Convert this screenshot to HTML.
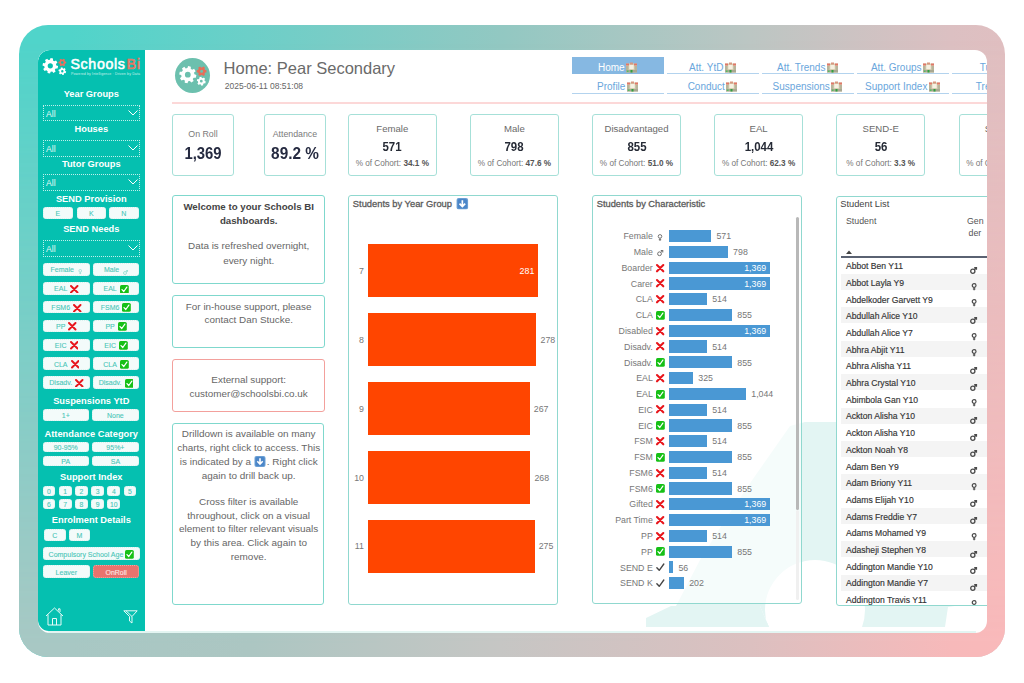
<!DOCTYPE html><html><head><meta charset="utf-8"><style>
*{margin:0;padding:0;box-sizing:border-box}
html,body{width:1024px;height:683px;overflow:hidden;background:#fff}
body{position:relative;font-family:"Liberation Sans",sans-serif}
.t{position:absolute;white-space:nowrap}
.r{position:absolute}
.ic{position:absolute;overflow:visible}
</style></head><body>
<div class="r" style="left:19px;top:25px;width:985.5px;height:632px;border-radius:29px;overflow:hidden;background:linear-gradient(to right,#50d4ca 5.2%,#6ccfc8 23.4%,#92c8c2 48.8%,#bcc6c3 74.2%,#dcc0c2 94.5%,#e0bfc1)"><div style="position:absolute;inset:0;background:linear-gradient(to right,#a8c8c4 5.2%,#acc6c2 23.4%,#c6c6c4 48.8%,#dcc0c0 74.2%,#f7b9ba 94.5%,#f9b9ba);-webkit-mask-image:linear-gradient(to bottom,transparent 2%,#000 98%);mask-image:linear-gradient(to bottom,transparent 2%,#000 98%)"></div></div>
<div class="r" style="left:37.5px;top:49.5px;width:949px;height:583.5px;border-radius:12px;background:#fff;overflow:hidden" id="panel"><div class="r" style="left:-37.5px;top:-49.5px;width:1024px;height:683px">
<svg class="ic" style="left:0;top:0;clip-path:inset(0 0 56px 0)" width="1024" height="683"><path d="M676,606 L700,560 L725,520 L755,476 L790,426 L805,422 L840,422 L850,424 L900,440 L960,470 L995,520 L995,600 L948,607 L945,627 L860,627 L769,627 L760,606 Z M865,610 A50,50 0 1,0 765,610 A50,50 0 1,0 865,610 Z" fill="#e3f5f3" fill-rule="evenodd"/><path d="M646,627 L646,618 L671,606 L760,606 L769,627 Z" fill="#e3f5f3"/></svg>
<div class="r" style="left:37.5px;top:49.5px;width:107.5px;height:581px;border-radius:12px 0 0 11px;background:#05c0b0"></div>
<svg class="ic" style="left:0;top:0" width="200" height="100"><path d="M56.29,65.45 L58.10,66.07 L57.59,68.58 L55.68,68.46 L54.79,69.78 L55.62,71.51 L53.48,72.92 L52.22,71.48 L50.65,71.79 L50.03,73.60 L47.52,73.09 L47.64,71.18 L46.32,70.29 L44.59,71.12 L43.18,68.98 L44.62,67.72 L44.31,66.15 L42.50,65.53 L43.01,63.02 L44.92,63.14 L45.81,61.82 L44.98,60.09 L47.12,58.68 L48.38,60.12 L49.95,59.81 L50.57,58.00 L53.08,58.51 L52.96,60.42 L54.28,61.31 L56.01,60.48 L57.42,62.62 L55.98,63.88 Z M52.90,65.80 A2.6,2.6 0 1,0 47.70,65.80 A2.6,2.6 0 1,0 52.90,65.80 Z" fill="#fff" fill-rule="evenodd"/><path d="M65.12,61.48 L66.20,61.63 L66.20,63.37 L65.12,63.52 L64.59,64.44 L65.01,65.44 L63.50,66.32 L62.83,65.45 L61.77,65.45 L61.10,66.32 L59.59,65.44 L60.01,64.44 L59.48,63.52 L58.40,63.37 L58.40,61.63 L59.48,61.48 L60.01,60.56 L59.59,59.56 L61.10,58.68 L61.77,59.55 L62.83,59.55 L63.50,58.68 L65.01,59.56 L64.59,60.56 Z M63.60,62.50 A1.3,1.3 0 1,0 61.00,62.50 A1.3,1.3 0 1,0 63.60,62.50 Z" fill="#e8705e" fill-rule="evenodd"/><path d="M65.20,71.07 L66.19,71.51 L65.68,73.14 L64.62,72.94 L63.86,73.64 L63.97,74.72 L62.31,75.10 L61.95,74.08 L60.97,73.77 L60.09,74.41 L58.93,73.16 L59.63,72.33 L59.40,71.33 L58.41,70.89 L58.92,69.26 L59.98,69.46 L60.74,68.76 L60.63,67.68 L62.29,67.30 L62.65,68.32 L63.63,68.63 L64.51,67.99 L65.67,69.24 L64.97,70.07 Z M63.50,71.20 A1.2,1.2 0 1,0 61.10,71.20 A1.2,1.2 0 1,0 63.50,71.20 Z" fill="#fff" fill-rule="evenodd"/></svg>
<div class="t" style="left:70.50px;top:54.38px;width:300px;font-size:14.2px;line-height:20px;color:#fff;text-align:left;letter-spacing:0.65px;-webkit-text-stroke:0.55px #fff;">Schools</div>
<div class="t" style="left:126.60px;top:54.38px;width:300px;font-size:14.2px;line-height:20px;color:#d6907a;text-align:left;letter-spacing:0.6px;-webkit-text-stroke:0.7px #ee6f5c;">Bi</div>
<div class="t" style="left:71.00px;top:71.79px;width:300px;font-size:3.6px;line-height:5px;color:#c8f0ea;text-align:left;letter-spacing:0.1px;">Powered by Intelligence &middot; Driven by Data</div>
<div class="t" style="left:31.30px;top:87.83px;width:120px;font-size:9.3px;line-height:13px;color:#fff;text-align:center;font-weight:700;">Year Groups</div>
<div class="t" style="left:31.30px;top:122.53px;width:120px;font-size:9.3px;line-height:13px;color:#fff;text-align:center;font-weight:700;">Houses</div>
<div class="t" style="left:31.30px;top:157.63px;width:120px;font-size:9.3px;line-height:13px;color:#fff;text-align:center;font-weight:700;">Tutor Groups</div>
<div class="t" style="left:31.30px;top:192.93px;width:120px;font-size:9.3px;line-height:13px;color:#fff;text-align:center;font-weight:700;">SEND Provision</div>
<div class="t" style="left:31.30px;top:222.83px;width:120px;font-size:9.3px;line-height:13px;color:#fff;text-align:center;font-weight:700;">SEND Needs</div>
<div class="t" style="left:31.30px;top:394.83px;width:120px;font-size:9.3px;line-height:13px;color:#fff;text-align:center;font-weight:700;">Suspensions YtD</div>
<div class="t" style="left:31.30px;top:427.63px;width:120px;font-size:9.3px;line-height:13px;color:#fff;text-align:center;font-weight:700;">Attendance Category</div>
<div class="t" style="left:31.30px;top:471.03px;width:120px;font-size:9.3px;line-height:13px;color:#fff;text-align:center;font-weight:700;">Support Index</div>
<div class="t" style="left:31.30px;top:514.33px;width:120px;font-size:9.3px;line-height:13px;color:#fff;text-align:center;font-weight:700;">Enrolment Details</div>
<div class="r" style="left:43.00px;top:104.50px;width:97.00px;height:16.90px;border:1px dotted rgba(255,255,255,.75)"></div>
<div class="t" style="left:46.00px;top:108.03px;width:300px;font-size:8.6px;line-height:12px;color:#e6faf7;text-align:left;">All</div>
<svg class="ic" style="left:128px;top:109.95px" width="10" height="6" viewBox="0 0 10 6"><path d="M0.5,0.5 L5,5 L9.5,0.5" stroke="#fff" stroke-width="1" fill="none"/></svg>
<div class="r" style="left:43.00px;top:139.50px;width:97.00px;height:17.10px;border:1px dotted rgba(255,255,255,.75)"></div>
<div class="t" style="left:46.00px;top:143.13px;width:300px;font-size:8.6px;line-height:12px;color:#e6faf7;text-align:left;">All</div>
<svg class="ic" style="left:128px;top:145.05px" width="10" height="6" viewBox="0 0 10 6"><path d="M0.5,0.5 L5,5 L9.5,0.5" stroke="#fff" stroke-width="1" fill="none"/></svg>
<div class="r" style="left:43.00px;top:174.00px;width:97.00px;height:16.70px;border:1px dotted rgba(255,255,255,.75)"></div>
<div class="t" style="left:46.00px;top:177.43px;width:300px;font-size:8.6px;line-height:12px;color:#e6faf7;text-align:left;">All</div>
<svg class="ic" style="left:128px;top:179.35px" width="10" height="6" viewBox="0 0 10 6"><path d="M0.5,0.5 L5,5 L9.5,0.5" stroke="#fff" stroke-width="1" fill="none"/></svg>
<div class="r" style="left:43.00px;top:239.50px;width:97.00px;height:17.20px;border:1px dotted rgba(255,255,255,.75)"></div>
<div class="t" style="left:46.00px;top:243.18px;width:300px;font-size:8.6px;line-height:12px;color:#e6faf7;text-align:left;">All</div>
<svg class="ic" style="left:128px;top:245.10px" width="10" height="6" viewBox="0 0 10 6"><path d="M0.5,0.5 L5,5 L9.5,0.5" stroke="#fff" stroke-width="1" fill="none"/></svg>
<div class="r" style="left:43.00px;top:207.10px;width:29.70px;height:12.40px;background:#f3fbfa;border-radius:3px;border:1px dotted #d8f2ee;display:flex;align-items:center;justify-content:center;gap:3px"><span style="font-size:7.0px;line-height:8.4px;color:#48c6b7;position:relative;top:1.1px;-webkit-text-stroke:0.1px #48c6b7">E</span></div>
<div class="r" style="left:76.50px;top:207.10px;width:29.50px;height:12.40px;background:#f3fbfa;border-radius:3px;border:1px dotted #d8f2ee;display:flex;align-items:center;justify-content:center;gap:3px"><span style="font-size:7.0px;line-height:8.4px;color:#48c6b7;position:relative;top:1.1px;-webkit-text-stroke:0.1px #48c6b7">K</span></div>
<div class="r" style="left:109.00px;top:207.10px;width:29.80px;height:12.40px;background:#f3fbfa;border-radius:3px;border:1px dotted #d8f2ee;display:flex;align-items:center;justify-content:center;gap:3px"><span style="font-size:7.0px;line-height:8.4px;color:#48c6b7;position:relative;top:1.1px;-webkit-text-stroke:0.1px #48c6b7">N</span></div>
<div class="r" style="left:43.00px;top:263.30px;width:46.90px;height:12.50px;background:#f3fbfa;border-radius:3px;border:1px dotted #d8f2ee;display:flex;align-items:center;justify-content:center;gap:4px"><span style="font-size:7.0px;line-height:8.4px;color:#48c6b7;position:relative;top:1.1px;-webkit-text-stroke:0.1px #48c6b7">Female</span><svg width="4.5" height="5.40" viewBox="0 0 10 12" style="flex:none;margin-top:5px"><circle cx="5" cy="4" r="3" stroke="#8ad8ce" stroke-width="1.5" fill="none"/><path d="M5,7 L5,11.5 M3,9.5 L7,9.5" stroke="#8ad8ce" stroke-width="1.5"/></svg></div>
<div class="r" style="left:92.70px;top:263.30px;width:46.70px;height:12.50px;background:#f3fbfa;border-radius:3px;border:1px dotted #d8f2ee;display:flex;align-items:center;justify-content:center;gap:4px"><span style="font-size:7.0px;line-height:8.4px;color:#48c6b7;position:relative;top:1.1px;-webkit-text-stroke:0.1px #48c6b7">Male</span><svg width="5" height="5" viewBox="0 0 10 10" style="flex:none;margin-top:5px"><circle cx="4" cy="6" r="3" stroke="#8ad8ce" stroke-width="1.5" fill="none"/><path d="M6.2,3.8 L9.2,0.8 M6,0.8 L9.2,0.8 L9.2,4" stroke="#8ad8ce" stroke-width="1.5" fill="none"/></svg></div>
<div class="r" style="left:43.00px;top:282.13px;width:46.90px;height:12.50px;background:#f3fbfa;border-radius:3px;border:1px dotted #d8f2ee;display:flex;align-items:center;justify-content:center;gap:3px"><span style="font-size:7.0px;line-height:8.4px;color:#48c6b7;position:relative;top:1.1px;-webkit-text-stroke:0.1px #48c6b7">EAL</span><svg width="8.5" height="8.5" viewBox="0 0 10 10" style="flex:none;position:relative;top:0.6px"><path d="M1.2,1.2 L8.8,8.8 M8.8,1.2 L1.2,8.8" stroke="#e8161c" stroke-width="2.3" stroke-linecap="round"/></svg></div>
<div class="r" style="left:92.70px;top:282.13px;width:46.70px;height:12.50px;background:#f3fbfa;border-radius:3px;border:1px dotted #d8f2ee;display:flex;align-items:center;justify-content:center;gap:3px"><span style="font-size:7.0px;line-height:8.4px;color:#48c6b7;position:relative;top:1.1px;-webkit-text-stroke:0.1px #48c6b7">EAL</span><svg width="8.8" height="8.8" viewBox="0 0 10 10" style="flex:none;position:relative;top:0.6px"><rect x="0" y="0" width="10" height="10" rx="1.8" fill="#16c016"/><path d="M2.3,5.2 L4.3,7.4 L7.8,2.4" stroke="#fff" stroke-width="1.4" fill="none" stroke-linecap="round" stroke-linejoin="round"/></svg></div>
<div class="r" style="left:43.00px;top:300.96px;width:46.90px;height:12.50px;background:#f3fbfa;border-radius:3px;border:1px dotted #d8f2ee;display:flex;align-items:center;justify-content:center;gap:3px"><span style="font-size:7.0px;line-height:8.4px;color:#48c6b7;position:relative;top:1.1px;-webkit-text-stroke:0.1px #48c6b7">FSM6</span><svg width="8.5" height="8.5" viewBox="0 0 10 10" style="flex:none;position:relative;top:0.6px"><path d="M1.2,1.2 L8.8,8.8 M8.8,1.2 L1.2,8.8" stroke="#e8161c" stroke-width="2.3" stroke-linecap="round"/></svg></div>
<div class="r" style="left:92.70px;top:300.96px;width:46.70px;height:12.50px;background:#f3fbfa;border-radius:3px;border:1px dotted #d8f2ee;display:flex;align-items:center;justify-content:center;gap:3px"><span style="font-size:7.0px;line-height:8.4px;color:#48c6b7;position:relative;top:1.1px;-webkit-text-stroke:0.1px #48c6b7">FSM6</span><svg width="8.8" height="8.8" viewBox="0 0 10 10" style="flex:none;position:relative;top:0.6px"><rect x="0" y="0" width="10" height="10" rx="1.8" fill="#16c016"/><path d="M2.3,5.2 L4.3,7.4 L7.8,2.4" stroke="#fff" stroke-width="1.4" fill="none" stroke-linecap="round" stroke-linejoin="round"/></svg></div>
<div class="r" style="left:43.00px;top:319.79px;width:46.90px;height:12.50px;background:#f3fbfa;border-radius:3px;border:1px dotted #d8f2ee;display:flex;align-items:center;justify-content:center;gap:3px"><span style="font-size:7.0px;line-height:8.4px;color:#48c6b7;position:relative;top:1.1px;-webkit-text-stroke:0.1px #48c6b7">PP</span><svg width="8.5" height="8.5" viewBox="0 0 10 10" style="flex:none;position:relative;top:0.6px"><path d="M1.2,1.2 L8.8,8.8 M8.8,1.2 L1.2,8.8" stroke="#e8161c" stroke-width="2.3" stroke-linecap="round"/></svg></div>
<div class="r" style="left:92.70px;top:319.79px;width:46.70px;height:12.50px;background:#f3fbfa;border-radius:3px;border:1px dotted #d8f2ee;display:flex;align-items:center;justify-content:center;gap:3px"><span style="font-size:7.0px;line-height:8.4px;color:#48c6b7;position:relative;top:1.1px;-webkit-text-stroke:0.1px #48c6b7">PP</span><svg width="8.8" height="8.8" viewBox="0 0 10 10" style="flex:none;position:relative;top:0.6px"><rect x="0" y="0" width="10" height="10" rx="1.8" fill="#16c016"/><path d="M2.3,5.2 L4.3,7.4 L7.8,2.4" stroke="#fff" stroke-width="1.4" fill="none" stroke-linecap="round" stroke-linejoin="round"/></svg></div>
<div class="r" style="left:43.00px;top:338.62px;width:46.90px;height:12.50px;background:#f3fbfa;border-radius:3px;border:1px dotted #d8f2ee;display:flex;align-items:center;justify-content:center;gap:3px"><span style="font-size:7.0px;line-height:8.4px;color:#48c6b7;position:relative;top:1.1px;-webkit-text-stroke:0.1px #48c6b7">EIC</span><svg width="8.5" height="8.5" viewBox="0 0 10 10" style="flex:none;position:relative;top:0.6px"><path d="M1.2,1.2 L8.8,8.8 M8.8,1.2 L1.2,8.8" stroke="#e8161c" stroke-width="2.3" stroke-linecap="round"/></svg></div>
<div class="r" style="left:92.70px;top:338.62px;width:46.70px;height:12.50px;background:#f3fbfa;border-radius:3px;border:1px dotted #d8f2ee;display:flex;align-items:center;justify-content:center;gap:3px"><span style="font-size:7.0px;line-height:8.4px;color:#48c6b7;position:relative;top:1.1px;-webkit-text-stroke:0.1px #48c6b7">EIC</span><svg width="8.8" height="8.8" viewBox="0 0 10 10" style="flex:none;position:relative;top:0.6px"><rect x="0" y="0" width="10" height="10" rx="1.8" fill="#16c016"/><path d="M2.3,5.2 L4.3,7.4 L7.8,2.4" stroke="#fff" stroke-width="1.4" fill="none" stroke-linecap="round" stroke-linejoin="round"/></svg></div>
<div class="r" style="left:43.00px;top:357.45px;width:46.90px;height:12.50px;background:#f3fbfa;border-radius:3px;border:1px dotted #d8f2ee;display:flex;align-items:center;justify-content:center;gap:3px"><span style="font-size:7.0px;line-height:8.4px;color:#48c6b7;position:relative;top:1.1px;-webkit-text-stroke:0.1px #48c6b7">CLA</span><svg width="8.5" height="8.5" viewBox="0 0 10 10" style="flex:none;position:relative;top:0.6px"><path d="M1.2,1.2 L8.8,8.8 M8.8,1.2 L1.2,8.8" stroke="#e8161c" stroke-width="2.3" stroke-linecap="round"/></svg></div>
<div class="r" style="left:92.70px;top:357.45px;width:46.70px;height:12.50px;background:#f3fbfa;border-radius:3px;border:1px dotted #d8f2ee;display:flex;align-items:center;justify-content:center;gap:3px"><span style="font-size:7.0px;line-height:8.4px;color:#48c6b7;position:relative;top:1.1px;-webkit-text-stroke:0.1px #48c6b7">CLA</span><svg width="8.8" height="8.8" viewBox="0 0 10 10" style="flex:none;position:relative;top:0.6px"><rect x="0" y="0" width="10" height="10" rx="1.8" fill="#16c016"/><path d="M2.3,5.2 L4.3,7.4 L7.8,2.4" stroke="#fff" stroke-width="1.4" fill="none" stroke-linecap="round" stroke-linejoin="round"/></svg></div>
<div class="r" style="left:43.00px;top:376.28px;width:46.90px;height:12.50px;background:#f3fbfa;border-radius:3px;border:1px dotted #d8f2ee;display:flex;align-items:center;justify-content:center;gap:3px"><span style="font-size:7.0px;line-height:8.4px;color:#48c6b7;position:relative;top:1.1px;-webkit-text-stroke:0.1px #48c6b7">Disadv.</span><svg width="8.5" height="8.5" viewBox="0 0 10 10" style="flex:none;position:relative;top:0.6px"><path d="M1.2,1.2 L8.8,8.8 M8.8,1.2 L1.2,8.8" stroke="#e8161c" stroke-width="2.3" stroke-linecap="round"/></svg></div>
<div class="r" style="left:92.70px;top:376.28px;width:46.70px;height:12.50px;background:#f3fbfa;border-radius:3px;border:1px dotted #d8f2ee;display:flex;align-items:center;justify-content:center;gap:3px"><span style="font-size:7.0px;line-height:8.4px;color:#48c6b7;position:relative;top:1.1px;-webkit-text-stroke:0.1px #48c6b7">Disadv.</span><svg width="8.8" height="8.8" viewBox="0 0 10 10" style="flex:none;position:relative;top:0.6px"><rect x="0" y="0" width="10" height="10" rx="1.8" fill="#16c016"/><path d="M2.3,5.2 L4.3,7.4 L7.8,2.4" stroke="#fff" stroke-width="1.4" fill="none" stroke-linecap="round" stroke-linejoin="round"/></svg></div>
<div class="r" style="left:42.60px;top:409.40px;width:46.30px;height:11.50px;background:#f3fbfa;border-radius:3px;border:1px dotted #d8f2ee;display:flex;align-items:center;justify-content:center;gap:3px"><span style="font-size:7.0px;line-height:8.4px;color:#48c6b7;position:relative;top:1.1px;-webkit-text-stroke:0.1px #48c6b7">1+</span></div>
<div class="r" style="left:92.00px;top:409.40px;width:46.80px;height:11.50px;background:#f3fbfa;border-radius:3px;border:1px dotted #d8f2ee;display:flex;align-items:center;justify-content:center;gap:3px"><span style="font-size:7.0px;line-height:8.4px;color:#48c6b7;position:relative;top:1.1px;-webkit-text-stroke:0.1px #48c6b7">None</span></div>
<div class="r" style="left:42.60px;top:441.80px;width:46.30px;height:10.10px;background:#f3fbfa;border-radius:3px;border:1px dotted #d8f2ee;display:flex;align-items:center;justify-content:center;gap:3px"><span style="font-size:7.0px;line-height:8.4px;color:#48c6b7;position:relative;top:1.1px;-webkit-text-stroke:0.1px #48c6b7">90-95%</span></div>
<div class="r" style="left:92.00px;top:441.80px;width:46.80px;height:10.10px;background:#f3fbfa;border-radius:3px;border:1px dotted #d8f2ee;display:flex;align-items:center;justify-content:center;gap:3px"><span style="font-size:7.0px;line-height:8.4px;color:#48c6b7;position:relative;top:1.1px;-webkit-text-stroke:0.1px #48c6b7">95%+</span></div>
<div class="r" style="left:42.60px;top:455.70px;width:46.30px;height:9.90px;background:#f3fbfa;border-radius:3px;border:1px dotted #d8f2ee;display:flex;align-items:center;justify-content:center;gap:3px"><span style="font-size:7.0px;line-height:8.4px;color:#48c6b7;position:relative;top:1.1px;-webkit-text-stroke:0.1px #48c6b7">PA</span></div>
<div class="r" style="left:92.00px;top:455.70px;width:46.80px;height:9.90px;background:#f3fbfa;border-radius:3px;border:1px dotted #d8f2ee;display:flex;align-items:center;justify-content:center;gap:3px"><span style="font-size:7.0px;line-height:8.4px;color:#48c6b7;position:relative;top:1.1px;-webkit-text-stroke:0.1px #48c6b7">SA</span></div>
<div class="r" style="left:42.60px;top:485.60px;width:12.80px;height:10.10px;background:#f3fbfa;border-radius:3px;border:1px dotted #d8f2ee;display:flex;align-items:center;justify-content:center;gap:3px"><span style="font-size:6.8px;line-height:8.2px;color:#48c6b7;position:relative;top:1.1px;-webkit-text-stroke:0.1px #48c6b7">0</span></div>
<div class="r" style="left:58.80px;top:485.60px;width:12.80px;height:10.10px;background:#f3fbfa;border-radius:3px;border:1px dotted #d8f2ee;display:flex;align-items:center;justify-content:center;gap:3px"><span style="font-size:6.8px;line-height:8.2px;color:#48c6b7;position:relative;top:1.1px;-webkit-text-stroke:0.1px #48c6b7">1</span></div>
<div class="r" style="left:75.00px;top:485.60px;width:12.80px;height:10.10px;background:#f3fbfa;border-radius:3px;border:1px dotted #d8f2ee;display:flex;align-items:center;justify-content:center;gap:3px"><span style="font-size:6.8px;line-height:8.2px;color:#48c6b7;position:relative;top:1.1px;-webkit-text-stroke:0.1px #48c6b7">2</span></div>
<div class="r" style="left:91.20px;top:485.60px;width:12.80px;height:10.10px;background:#f3fbfa;border-radius:3px;border:1px dotted #d8f2ee;display:flex;align-items:center;justify-content:center;gap:3px"><span style="font-size:6.8px;line-height:8.2px;color:#48c6b7;position:relative;top:1.1px;-webkit-text-stroke:0.1px #48c6b7">3</span></div>
<div class="r" style="left:107.40px;top:485.60px;width:12.80px;height:10.10px;background:#f3fbfa;border-radius:3px;border:1px dotted #d8f2ee;display:flex;align-items:center;justify-content:center;gap:3px"><span style="font-size:6.8px;line-height:8.2px;color:#48c6b7;position:relative;top:1.1px;-webkit-text-stroke:0.1px #48c6b7">4</span></div>
<div class="r" style="left:123.60px;top:485.60px;width:12.80px;height:10.10px;background:#f3fbfa;border-radius:3px;border:1px dotted #d8f2ee;display:flex;align-items:center;justify-content:center;gap:3px"><span style="font-size:6.8px;line-height:8.2px;color:#48c6b7;position:relative;top:1.1px;-webkit-text-stroke:0.1px #48c6b7">5</span></div>
<div class="r" style="left:42.60px;top:499.00px;width:12.80px;height:10.10px;background:#f3fbfa;border-radius:3px;border:1px dotted #d8f2ee;display:flex;align-items:center;justify-content:center;gap:3px"><span style="font-size:6.8px;line-height:8.2px;color:#48c6b7;position:relative;top:1.1px;-webkit-text-stroke:0.1px #48c6b7">6</span></div>
<div class="r" style="left:58.80px;top:499.00px;width:12.80px;height:10.10px;background:#f3fbfa;border-radius:3px;border:1px dotted #d8f2ee;display:flex;align-items:center;justify-content:center;gap:3px"><span style="font-size:6.8px;line-height:8.2px;color:#48c6b7;position:relative;top:1.1px;-webkit-text-stroke:0.1px #48c6b7">7</span></div>
<div class="r" style="left:75.00px;top:499.00px;width:12.80px;height:10.10px;background:#f3fbfa;border-radius:3px;border:1px dotted #d8f2ee;display:flex;align-items:center;justify-content:center;gap:3px"><span style="font-size:6.8px;line-height:8.2px;color:#48c6b7;position:relative;top:1.1px;-webkit-text-stroke:0.1px #48c6b7">8</span></div>
<div class="r" style="left:91.20px;top:499.00px;width:12.80px;height:10.10px;background:#f3fbfa;border-radius:3px;border:1px dotted #d8f2ee;display:flex;align-items:center;justify-content:center;gap:3px"><span style="font-size:6.8px;line-height:8.2px;color:#48c6b7;position:relative;top:1.1px;-webkit-text-stroke:0.1px #48c6b7">9</span></div>
<div class="r" style="left:107.40px;top:499.00px;width:12.80px;height:10.10px;background:#f3fbfa;border-radius:3px;border:1px dotted #d8f2ee;display:flex;align-items:center;justify-content:center;gap:3px"><span style="font-size:6.8px;line-height:8.2px;color:#48c6b7;position:relative;top:1.1px;-webkit-text-stroke:0.1px #48c6b7">10</span></div>
<div class="r" style="left:44.00px;top:528.50px;width:21.50px;height:12.40px;background:#f3fbfa;border-radius:3px;border:1px dotted #d8f2ee;display:flex;align-items:center;justify-content:center;gap:3px"><span style="font-size:7.0px;line-height:8.4px;color:#48c6b7;position:relative;top:1.1px;-webkit-text-stroke:0.1px #48c6b7">C</span></div>
<div class="r" style="left:68.70px;top:528.50px;width:21.50px;height:12.40px;background:#f3fbfa;border-radius:3px;border:1px dotted #d8f2ee;display:flex;align-items:center;justify-content:center;gap:3px"><span style="font-size:7.0px;line-height:8.4px;color:#48c6b7;position:relative;top:1.1px;-webkit-text-stroke:0.1px #48c6b7">M</span></div>
<div class="r" style="left:43.00px;top:547.30px;width:96.70px;height:12.90px;background:#f3fbfa;border-radius:3px;border:1px dotted #d8f2ee;display:flex;align-items:center;justify-content:center;gap:2px"><span style="font-size:7.0px;line-height:8.4px;color:#48c6b7;position:relative;top:1.1px;-webkit-text-stroke:0.1px #48c6b7">Compulsory School Age</span><svg width="8.8" height="8.8" viewBox="0 0 10 10" style="flex:none;position:relative;top:0.6px"><rect x="0" y="0" width="10" height="10" rx="1.8" fill="#16c016"/><path d="M2.3,5.2 L4.3,7.4 L7.8,2.4" stroke="#fff" stroke-width="1.4" fill="none" stroke-linecap="round" stroke-linejoin="round"/></svg></div>
<div class="r" style="left:43.00px;top:565.30px;width:46.60px;height:12.70px;background:#f3fbfa;border-radius:3px;border:1px dotted #d8f2ee;display:flex;align-items:center;justify-content:center;gap:3px"><span style="font-size:7.0px;line-height:8.4px;color:#48c6b7;position:relative;top:1.1px;-webkit-text-stroke:0.1px #48c6b7">Leaver</span></div>
<div class="r" style="left:93.10px;top:565.30px;width:46.10px;height:12.70px;background:#e8736e;border-radius:3px;border:1px dotted #f3a8a2;display:flex;align-items:center;justify-content:center;gap:3px"><span style="font-size:7.0px;line-height:8.4px;color:#fde8e6;position:relative;top:1.1px;-webkit-text-stroke:0.1px #fde8e6">OnRoll</span></div>
<svg class="ic" style="left:45px;top:607px" width="19" height="19" viewBox="0 0 19 19"><path d="M1,9 L9.5,1 L18,9 M3,7.5 L3,18 L16,18 L16,7.5 M7.5,18 L7.5,11.5 L11.5,11.5 L11.5,18 M13.5,3.5 L13.5,1.8 L15,1.8 L15,5" stroke="#e8fbf8" stroke-width="1" fill="none"/></svg>
<svg class="ic" style="left:123px;top:610px" width="15" height="14" viewBox="0 0 15 14"><path d="M0.8,0.8 L14.2,0.8 L9,6.5 L9,13 L6.5,11 L6.5,6.5 Z M3,0.8 L9,6.5" stroke="#e8fbf8" stroke-width="1" fill="none" stroke-linejoin="round"/></svg>
<div class="r" style="left:175.2px;top:58.3px;width:35.2px;height:35.2px;border-radius:50%;background:#6cc0ae"></div>
<svg class="ic" style="left:0;top:0" width="230" height="100"><path d="M194.39,74.31 L196.39,75.00 L195.83,77.77 L193.72,77.63 L192.73,79.08 L193.66,80.99 L191.31,82.55 L189.92,80.95 L188.19,81.29 L187.50,83.29 L184.73,82.73 L184.87,80.62 L183.42,79.63 L181.51,80.56 L179.95,78.21 L181.55,76.82 L181.21,75.09 L179.21,74.40 L179.77,71.63 L181.88,71.77 L182.87,70.32 L181.94,68.41 L184.29,66.85 L185.68,68.45 L187.41,68.11 L188.10,66.11 L190.87,66.67 L190.73,68.78 L192.18,69.77 L194.09,68.84 L195.65,71.19 L194.05,72.58 Z M190.70,74.70 A2.9,2.9 0 1,0 184.90,74.70 A2.9,2.9 0 1,0 190.70,74.70 Z" fill="#fff" fill-rule="evenodd"/><path d="M205.18,70.01 L206.48,70.21 L206.48,72.39 L205.18,72.59 L204.50,73.75 L204.98,74.98 L203.10,76.07 L202.27,75.04 L200.93,75.04 L200.10,76.07 L198.22,74.98 L198.70,73.75 L198.02,72.59 L196.72,72.39 L196.72,70.21 L198.02,70.01 L198.70,68.85 L198.22,67.62 L200.10,66.53 L200.93,67.56 L202.27,67.56 L203.10,66.53 L204.98,67.62 L204.50,68.85 Z M203.10,71.30 A1.5,1.5 0 1,0 200.10,71.30 A1.5,1.5 0 1,0 203.10,71.30 Z" fill="#e66e5a" fill-rule="evenodd"/><path d="M204.70,81.05 L205.79,81.56 L205.21,83.44 L204.02,83.25 L203.13,84.06 L203.23,85.26 L201.32,85.70 L200.89,84.57 L199.74,84.22 L198.75,84.90 L197.41,83.46 L198.17,82.53 L197.90,81.35 L196.81,80.84 L197.39,78.96 L198.58,79.15 L199.47,78.34 L199.37,77.14 L201.28,76.70 L201.71,77.83 L202.86,78.18 L203.85,77.50 L205.19,78.94 L204.43,79.87 Z M202.70,81.20 A1.4,1.4 0 1,0 199.90,81.20 A1.4,1.4 0 1,0 202.70,81.20 Z" fill="#fff" fill-rule="evenodd"/></svg>
<div class="t" style="left:223.60px;top:57.11px;width:300px;font-size:16.5px;line-height:23px;color:#6a6a6a;text-align:left;">Home: Pear Secondary</div>
<div class="t" style="left:224.80px;top:80.34px;width:300px;font-size:8.5px;line-height:12px;color:#666;text-align:left;">2025-06-11 08:51:08</div>
<div class="r" style="left:172.00px;top:102.30px;width:815.00px;height:1.50px;background:#fcd8d8"></div>
<div class="r" style="left:572.00px;top:57.40px;width:92.00px;height:16.70px;background:#86b8e2"></div>
<div class="r" style="left:572px;top:60.60px;width:92px;height:13px;display:flex;align-items:center;justify-content:center;white-space:nowrap"><span style="font-size:10px;line-height:13px;color:#fff">Home</span><svg width="13" height="11" viewBox="0 0 13 11" style="flex:none;margin-left:0.5px"><rect x="1" y="1.5" width="11" height="9" fill="#d8d0b4"/><rect x="1" y="1.5" width="3" height="2" fill="#e07868"/><rect x="9" y="1.5" width="3" height="2" fill="#e07868"/><rect x="5" y="0.5" width="3" height="2" fill="#d89880"/><rect x="4.3" y="3" width="4.4" height="4" fill="#f6f1e2"/><rect x="1" y="4" width="2.5" height="6" fill="#b8b49a"/><rect x="9.5" y="4" width="2.5" height="6" fill="#b8b49a"/><rect x="1" y="8" width="11" height="2.5" fill="#a8a892"/><rect x="5.5" y="8" width="2" height="2.5" fill="#30a040"/><rect x="2" y="8.5" width="1.5" height="1.5" fill="#50c060"/></svg></div>
<div class="r" style="left:667.00px;top:72.80px;width:92.00px;height:1.30px;background:#b3d3ee"></div>
<div class="r" style="left:667px;top:60.60px;width:92px;height:13px;display:flex;align-items:center;justify-content:center;white-space:nowrap"><span style="font-size:10px;line-height:13px;color:#6aa6dc">Att. YtD</span><svg width="13" height="11" viewBox="0 0 13 11" style="flex:none;margin-left:0.5px"><rect x="1" y="1.5" width="11" height="9" fill="#d8d0b4"/><rect x="1" y="1.5" width="3" height="2" fill="#e07868"/><rect x="9" y="1.5" width="3" height="2" fill="#e07868"/><rect x="5" y="0.5" width="3" height="2" fill="#d89880"/><rect x="4.3" y="3" width="4.4" height="4" fill="#f6f1e2"/><rect x="1" y="4" width="2.5" height="6" fill="#b8b49a"/><rect x="9.5" y="4" width="2.5" height="6" fill="#b8b49a"/><rect x="1" y="8" width="11" height="2.5" fill="#a8a892"/><rect x="5.5" y="8" width="2" height="2.5" fill="#30a040"/><rect x="2" y="8.5" width="1.5" height="1.5" fill="#50c060"/></svg></div>
<div class="r" style="left:762.00px;top:72.80px;width:92.00px;height:1.30px;background:#b3d3ee"></div>
<div class="r" style="left:762px;top:60.60px;width:92px;height:13px;display:flex;align-items:center;justify-content:center;white-space:nowrap"><span style="font-size:10px;line-height:13px;color:#6aa6dc">Att. Trends</span><svg width="13" height="11" viewBox="0 0 13 11" style="flex:none;margin-left:0.5px"><rect x="1" y="1.5" width="11" height="9" fill="#d8d0b4"/><rect x="1" y="1.5" width="3" height="2" fill="#e07868"/><rect x="9" y="1.5" width="3" height="2" fill="#e07868"/><rect x="5" y="0.5" width="3" height="2" fill="#d89880"/><rect x="4.3" y="3" width="4.4" height="4" fill="#f6f1e2"/><rect x="1" y="4" width="2.5" height="6" fill="#b8b49a"/><rect x="9.5" y="4" width="2.5" height="6" fill="#b8b49a"/><rect x="1" y="8" width="11" height="2.5" fill="#a8a892"/><rect x="5.5" y="8" width="2" height="2.5" fill="#30a040"/><rect x="2" y="8.5" width="1.5" height="1.5" fill="#50c060"/></svg></div>
<div class="r" style="left:857.00px;top:72.80px;width:92.00px;height:1.30px;background:#b3d3ee"></div>
<div class="r" style="left:857px;top:60.60px;width:92px;height:13px;display:flex;align-items:center;justify-content:center;white-space:nowrap"><span style="font-size:10px;line-height:13px;color:#6aa6dc">Att. Groups</span><svg width="13" height="11" viewBox="0 0 13 11" style="flex:none;margin-left:0.5px"><rect x="1" y="1.5" width="11" height="9" fill="#d8d0b4"/><rect x="1" y="1.5" width="3" height="2" fill="#e07868"/><rect x="9" y="1.5" width="3" height="2" fill="#e07868"/><rect x="5" y="0.5" width="3" height="2" fill="#d89880"/><rect x="4.3" y="3" width="4.4" height="4" fill="#f6f1e2"/><rect x="1" y="4" width="2.5" height="6" fill="#b8b49a"/><rect x="9.5" y="4" width="2.5" height="6" fill="#b8b49a"/><rect x="1" y="8" width="11" height="2.5" fill="#a8a892"/><rect x="5.5" y="8" width="2" height="2.5" fill="#30a040"/><rect x="2" y="8.5" width="1.5" height="1.5" fill="#50c060"/></svg></div>
<div class="r" style="left:952.00px;top:72.80px;width:92.00px;height:1.30px;background:#b3d3ee"></div>
<div class="r" style="left:952px;top:60.60px;width:92px;height:13px;display:flex;align-items:center;justify-content:center;white-space:nowrap"><span style="font-size:10px;line-height:13px;color:#6aa6dc">Tutor</span><svg width="13" height="11" viewBox="0 0 13 11" style="flex:none;margin-left:0.5px"><rect x="1" y="1.5" width="11" height="9" fill="#d8d0b4"/><rect x="1" y="1.5" width="3" height="2" fill="#e07868"/><rect x="9" y="1.5" width="3" height="2" fill="#e07868"/><rect x="5" y="0.5" width="3" height="2" fill="#d89880"/><rect x="4.3" y="3" width="4.4" height="4" fill="#f6f1e2"/><rect x="1" y="4" width="2.5" height="6" fill="#b8b49a"/><rect x="9.5" y="4" width="2.5" height="6" fill="#b8b49a"/><rect x="1" y="8" width="11" height="2.5" fill="#a8a892"/><rect x="5.5" y="8" width="2" height="2.5" fill="#30a040"/><rect x="2" y="8.5" width="1.5" height="1.5" fill="#50c060"/></svg></div>
<div class="r" style="left:572.00px;top:93.00px;width:92.00px;height:1.30px;background:#b3d3ee"></div>
<div class="r" style="left:572px;top:79.60px;width:92px;height:13px;display:flex;align-items:center;justify-content:center;white-space:nowrap"><span style="font-size:10px;line-height:13px;color:#6aa6dc">Profile</span><svg width="13" height="11" viewBox="0 0 13 11" style="flex:none;margin-left:0.5px"><rect x="1" y="1.5" width="11" height="9" fill="#d8d0b4"/><rect x="1" y="1.5" width="3" height="2" fill="#e07868"/><rect x="9" y="1.5" width="3" height="2" fill="#e07868"/><rect x="5" y="0.5" width="3" height="2" fill="#d89880"/><rect x="4.3" y="3" width="4.4" height="4" fill="#f6f1e2"/><rect x="1" y="4" width="2.5" height="6" fill="#b8b49a"/><rect x="9.5" y="4" width="2.5" height="6" fill="#b8b49a"/><rect x="1" y="8" width="11" height="2.5" fill="#a8a892"/><rect x="5.5" y="8" width="2" height="2.5" fill="#30a040"/><rect x="2" y="8.5" width="1.5" height="1.5" fill="#50c060"/></svg></div>
<div class="r" style="left:667.00px;top:93.00px;width:92.00px;height:1.30px;background:#b3d3ee"></div>
<div class="r" style="left:667px;top:79.60px;width:92px;height:13px;display:flex;align-items:center;justify-content:center;white-space:nowrap"><span style="font-size:10px;line-height:13px;color:#6aa6dc">Conduct</span><svg width="13" height="11" viewBox="0 0 13 11" style="flex:none;margin-left:0.5px"><rect x="1" y="1.5" width="11" height="9" fill="#d8d0b4"/><rect x="1" y="1.5" width="3" height="2" fill="#e07868"/><rect x="9" y="1.5" width="3" height="2" fill="#e07868"/><rect x="5" y="0.5" width="3" height="2" fill="#d89880"/><rect x="4.3" y="3" width="4.4" height="4" fill="#f6f1e2"/><rect x="1" y="4" width="2.5" height="6" fill="#b8b49a"/><rect x="9.5" y="4" width="2.5" height="6" fill="#b8b49a"/><rect x="1" y="8" width="11" height="2.5" fill="#a8a892"/><rect x="5.5" y="8" width="2" height="2.5" fill="#30a040"/><rect x="2" y="8.5" width="1.5" height="1.5" fill="#50c060"/></svg></div>
<div class="r" style="left:762.00px;top:93.00px;width:92.00px;height:1.30px;background:#b3d3ee"></div>
<div class="r" style="left:762px;top:79.60px;width:92px;height:13px;display:flex;align-items:center;justify-content:center;white-space:nowrap"><span style="font-size:10px;line-height:13px;color:#6aa6dc">Suspensions</span><svg width="13" height="11" viewBox="0 0 13 11" style="flex:none;margin-left:0.5px"><rect x="1" y="1.5" width="11" height="9" fill="#d8d0b4"/><rect x="1" y="1.5" width="3" height="2" fill="#e07868"/><rect x="9" y="1.5" width="3" height="2" fill="#e07868"/><rect x="5" y="0.5" width="3" height="2" fill="#d89880"/><rect x="4.3" y="3" width="4.4" height="4" fill="#f6f1e2"/><rect x="1" y="4" width="2.5" height="6" fill="#b8b49a"/><rect x="9.5" y="4" width="2.5" height="6" fill="#b8b49a"/><rect x="1" y="8" width="11" height="2.5" fill="#a8a892"/><rect x="5.5" y="8" width="2" height="2.5" fill="#30a040"/><rect x="2" y="8.5" width="1.5" height="1.5" fill="#50c060"/></svg></div>
<div class="r" style="left:857.00px;top:93.00px;width:92.00px;height:1.30px;background:#b3d3ee"></div>
<div class="r" style="left:857px;top:79.60px;width:92px;height:13px;display:flex;align-items:center;justify-content:center;white-space:nowrap"><span style="font-size:10px;line-height:13px;color:#6aa6dc">Support Index</span><svg width="13" height="11" viewBox="0 0 13 11" style="flex:none;margin-left:0.5px"><rect x="1" y="1.5" width="11" height="9" fill="#d8d0b4"/><rect x="1" y="1.5" width="3" height="2" fill="#e07868"/><rect x="9" y="1.5" width="3" height="2" fill="#e07868"/><rect x="5" y="0.5" width="3" height="2" fill="#d89880"/><rect x="4.3" y="3" width="4.4" height="4" fill="#f6f1e2"/><rect x="1" y="4" width="2.5" height="6" fill="#b8b49a"/><rect x="9.5" y="4" width="2.5" height="6" fill="#b8b49a"/><rect x="1" y="8" width="11" height="2.5" fill="#a8a892"/><rect x="5.5" y="8" width="2" height="2.5" fill="#30a040"/><rect x="2" y="8.5" width="1.5" height="1.5" fill="#50c060"/></svg></div>
<div class="r" style="left:952.00px;top:93.00px;width:92.00px;height:1.30px;background:#b3d3ee"></div>
<div class="r" style="left:952px;top:79.60px;width:92px;height:13px;display:flex;align-items:center;justify-content:center;white-space:nowrap"><span style="font-size:10px;line-height:13px;color:#6aa6dc">Trends</span><svg width="13" height="11" viewBox="0 0 13 11" style="flex:none;margin-left:0.5px"><rect x="1" y="1.5" width="11" height="9" fill="#d8d0b4"/><rect x="1" y="1.5" width="3" height="2" fill="#e07868"/><rect x="9" y="1.5" width="3" height="2" fill="#e07868"/><rect x="5" y="0.5" width="3" height="2" fill="#d89880"/><rect x="4.3" y="3" width="4.4" height="4" fill="#f6f1e2"/><rect x="1" y="4" width="2.5" height="6" fill="#b8b49a"/><rect x="9.5" y="4" width="2.5" height="6" fill="#b8b49a"/><rect x="1" y="8" width="11" height="2.5" fill="#a8a892"/><rect x="5.5" y="8" width="2" height="2.5" fill="#30a040"/><rect x="2" y="8.5" width="1.5" height="1.5" fill="#50c060"/></svg></div>
<div class="r" style="left:171.80px;top:113.70px;width:62.40px;height:62.40px;border:1px solid #a6e0d8;border-radius:3px;background:#fff"></div>
<div class="t" style="left:173.00px;top:127.85px;width:60px;font-size:8.8px;line-height:12px;color:#7a7a7a;text-align:center;">On Roll</div>
<div class="t" style="left:173.00px;top:141.51px;width:60px;font-size:16.5px;line-height:23px;color:#252a40;text-align:center;font-weight:700;transform:scaleX(0.9);">1,369</div>
<div class="r" style="left:264.00px;top:113.70px;width:61.80px;height:62.40px;border:1px solid #a6e0d8;border-radius:3px;background:#fff"></div>
<div class="t" style="left:264.90px;top:127.85px;width:60px;font-size:8.8px;line-height:12px;color:#7a7a7a;text-align:center;">Attendance</div>
<div class="t" style="left:260.30px;top:141.51px;width:70px;font-size:16.5px;line-height:23px;color:#252a40;text-align:center;font-weight:700;transform:scaleX(0.93);">89.2 %</div>
<div class="r" style="left:348.00px;top:113.90px;width:88.60px;height:62.40px;border:1px solid #a6e0d8;border-radius:3px;background:#fff"></div>
<div class="t" style="left:342.30px;top:122.44px;width:100px;font-size:9.6px;line-height:13px;color:#6a6a6a;text-align:center;">Female</div>
<div class="t" style="left:342.30px;top:137.75px;width:100px;font-size:13px;line-height:18px;color:#252a35;text-align:center;font-weight:700;transform:scaleX(0.88);">571</div>
<div class="t" style="left:342.30px;top:158.14px;width:100px;font-size:8.2px;line-height:11px;color:#777;text-align:center;">% of Cohort: <b style="color:#555">34.1 %</b></div>
<div class="r" style="left:470.10px;top:113.90px;width:88.60px;height:62.40px;border:1px solid #a6e0d8;border-radius:3px;background:#fff"></div>
<div class="t" style="left:464.40px;top:122.44px;width:100px;font-size:9.6px;line-height:13px;color:#6a6a6a;text-align:center;">Male</div>
<div class="t" style="left:464.40px;top:137.75px;width:100px;font-size:13px;line-height:18px;color:#252a35;text-align:center;font-weight:700;transform:scaleX(0.88);">798</div>
<div class="t" style="left:464.40px;top:158.14px;width:100px;font-size:8.2px;line-height:11px;color:#777;text-align:center;">% of Cohort: <b style="color:#555">47.6 %</b></div>
<div class="r" style="left:592.20px;top:113.90px;width:88.60px;height:62.40px;border:1px solid #a6e0d8;border-radius:3px;background:#fff"></div>
<div class="t" style="left:586.50px;top:122.44px;width:100px;font-size:9.6px;line-height:13px;color:#6a6a6a;text-align:center;">Disadvantaged</div>
<div class="t" style="left:586.50px;top:137.75px;width:100px;font-size:13px;line-height:18px;color:#252a35;text-align:center;font-weight:700;transform:scaleX(0.88);">855</div>
<div class="t" style="left:586.50px;top:158.14px;width:100px;font-size:8.2px;line-height:11px;color:#777;text-align:center;">% of Cohort: <b style="color:#555">51.0 %</b></div>
<div class="r" style="left:714.30px;top:113.90px;width:88.60px;height:62.40px;border:1px solid #a6e0d8;border-radius:3px;background:#fff"></div>
<div class="t" style="left:708.60px;top:122.44px;width:100px;font-size:9.6px;line-height:13px;color:#6a6a6a;text-align:center;">EAL</div>
<div class="t" style="left:708.60px;top:137.75px;width:100px;font-size:13px;line-height:18px;color:#252a35;text-align:center;font-weight:700;transform:scaleX(0.88);">1,044</div>
<div class="t" style="left:708.60px;top:158.14px;width:100px;font-size:8.2px;line-height:11px;color:#777;text-align:center;">% of Cohort: <b style="color:#555">62.3 %</b></div>
<div class="r" style="left:836.40px;top:113.90px;width:88.60px;height:62.40px;border:1px solid #a6e0d8;border-radius:3px;background:#fff"></div>
<div class="t" style="left:830.70px;top:122.44px;width:100px;font-size:9.6px;line-height:13px;color:#6a6a6a;text-align:center;">SEND-E</div>
<div class="t" style="left:830.70px;top:137.75px;width:100px;font-size:13px;line-height:18px;color:#252a35;text-align:center;font-weight:700;transform:scaleX(0.88);">56</div>
<div class="t" style="left:830.70px;top:158.14px;width:100px;font-size:8.2px;line-height:11px;color:#777;text-align:center;">% of Cohort: <b style="color:#555">3.3 %</b></div>
<div class="r" style="left:958.50px;top:113.90px;width:88.60px;height:62.40px;border:1px solid #a6e0d8;border-radius:3px;background:#fff"></div>
<div class="t" style="left:952.80px;top:122.44px;width:100px;font-size:9.6px;line-height:13px;color:#6a6a6a;text-align:center;">SEND-K</div>
<div class="t" style="left:952.80px;top:137.75px;width:100px;font-size:13px;line-height:18px;color:#252a35;text-align:center;font-weight:700;transform:scaleX(0.88);">202</div>
<div class="t" style="left:952.80px;top:158.14px;width:100px;font-size:8.2px;line-height:11px;color:#777;text-align:center;">% of Cohort: <b style="color:#555">12.1 %</b></div>
<div class="r" style="left:172.40px;top:195.00px;width:152.60px;height:88.60px;border:1px solid #7fd8cd;border-radius:3px;background:#fff"></div>
<div class="t" style="left:168.70px;top:199.77px;width:160px;font-size:9.7px;line-height:14px;color:#444;text-align:center;font-weight:700;">Welcome to your Schools BI</div>
<div class="t" style="left:168.70px;top:214.27px;width:160px;font-size:9.7px;line-height:14px;color:#444;text-align:center;font-weight:700;">dashboards.</div>
<div class="t" style="left:168.70px;top:239.24px;width:160px;font-size:9.9px;line-height:14px;color:#666;text-align:center;">Data is refreshed overnight,</div>
<div class="t" style="left:168.70px;top:253.74px;width:160px;font-size:9.9px;line-height:14px;color:#666;text-align:center;">every night.</div>
<div class="r" style="left:172.40px;top:295.00px;width:152.60px;height:53.20px;border:1px solid #7fd8cd;border-radius:3px;background:#fff"></div>
<div class="t" style="left:168.70px;top:300.24px;width:160px;font-size:9.9px;line-height:14px;color:#666;text-align:center;">For in-house support, please</div>
<div class="t" style="left:168.70px;top:313.34px;width:160px;font-size:9.9px;line-height:14px;color:#666;text-align:center;">contact Dan Stucke.</div>
<div class="r" style="left:172.40px;top:359.00px;width:152.60px;height:52.50px;border:1px solid #f3a09c;border-radius:3px;background:#fff"></div>
<div class="t" style="left:168.70px;top:373.24px;width:160px;font-size:9.9px;line-height:14px;color:#666;text-align:center;">External support:</div>
<div class="t" style="left:168.70px;top:386.74px;width:160px;font-size:9.9px;line-height:14px;color:#666;text-align:center;">customer@schoolsbi.co.uk</div>
<div class="r" style="left:172.40px;top:422.60px;width:152.10px;height:182.00px;border:1px solid #7fd8cd;border-radius:3px;background:#fff"></div>
<div class="t" style="left:168.70px;top:427.06px;width:160px;font-size:9.95px;line-height:14px;color:#666;text-align:center;">Drilldown is available on many</div>
<div class="t" style="left:168.70px;top:441.06px;width:160px;font-size:9.95px;line-height:14px;color:#666;text-align:center;">charts, right click to access. This</div>
<div class="t" style="left:168.70px;top:455.06px;width:160px;font-size:9.95px;line-height:14px;color:#666;text-align:center;">is indicated by a <svg width="12" height="11" viewBox="0 0 12 11" style="vertical-align:-1.5px;margin:0 0.5px"><rect x="0.5" y="0" width="11" height="11" rx="2" fill="#6a9fd4"/><rect x="1.5" y="1" width="9" height="9" rx="1.5" fill="#4b86c8"/><path d="M6,2.2 L6,7.8 M3.3,5.3 L6,8.2 L8.7,5.3" stroke="#fff" stroke-width="1.6" fill="none"/></svg>. Right click</div>
<div class="t" style="left:168.70px;top:469.06px;width:160px;font-size:9.95px;line-height:14px;color:#666;text-align:center;">again to drill back up.</div>
<div class="t" style="left:168.70px;top:494.66px;width:160px;font-size:9.95px;line-height:14px;color:#666;text-align:center;">Cross filter is available</div>
<div class="t" style="left:168.70px;top:508.51px;width:160px;font-size:9.95px;line-height:14px;color:#666;text-align:center;">throughout, click on a visual</div>
<div class="t" style="left:168.70px;top:522.36px;width:160px;font-size:9.95px;line-height:14px;color:#666;text-align:center;">element to filter relevant visuals</div>
<div class="t" style="left:168.70px;top:536.21px;width:160px;font-size:9.95px;line-height:14px;color:#666;text-align:center;">by this area. Click again to</div>
<div class="t" style="left:168.70px;top:550.06px;width:160px;font-size:9.95px;line-height:14px;color:#666;text-align:center;">remove.</div>
<div class="r" style="left:348.40px;top:195.00px;width:210.10px;height:410.00px;border:1px solid #90d8cf;border-radius:3px;background:rgba(255,255,255,.65)"></div>
<div class="t" style="left:352.80px;top:197.95px;width:300px;font-size:9.35px;line-height:13px;color:#5a5a5a;text-align:left;-webkit-text-stroke:0.3px #5a5a5a;">Students by Year Group</div>
<div class="r" style="left:455.3px;top:197.6px;line-height:0;transform:scale(1.05);transform-origin:0 0"><svg width="12" height="11" viewBox="0 0 12 11" style="vertical-align:-1.5px;margin:0 0.5px"><rect x="0.5" y="0" width="11" height="11" rx="2" fill="#6a9fd4"/><rect x="1.5" y="1" width="9" height="9" rx="1.5" fill="#4b86c8"/><path d="M6,2.2 L6,7.8 M3.3,5.3 L6,8.2 L8.7,5.3" stroke="#fff" stroke-width="1.6" fill="none"/></svg></div>
<div class="r" style="left:368.30px;top:244.30px;width:170.00px;height:53.00px;background:#ff4500"></div>
<div class="t" style="left:334.00px;top:264.95px;width:30px;font-size:8.8px;line-height:12px;color:#777;text-align:right;">7</div>
<div class="t" style="left:504.30px;top:264.95px;width:30px;font-size:8.8px;line-height:12px;color:#fff;text-align:right;">281</div>
<div class="r" style="left:368.30px;top:313.18px;width:168.19px;height:53.00px;background:#ff4500"></div>
<div class="t" style="left:334.00px;top:333.83px;width:30px;font-size:8.8px;line-height:12px;color:#777;text-align:right;">8</div>
<div class="t" style="left:540.49px;top:333.83px;width:300px;font-size:8.8px;line-height:12px;color:#777;text-align:left;">278</div>
<div class="r" style="left:368.30px;top:382.06px;width:161.53px;height:53.00px;background:#ff4500"></div>
<div class="t" style="left:334.00px;top:402.71px;width:30px;font-size:8.8px;line-height:12px;color:#777;text-align:right;">9</div>
<div class="t" style="left:533.83px;top:402.71px;width:300px;font-size:8.8px;line-height:12px;color:#777;text-align:left;">267</div>
<div class="r" style="left:368.30px;top:450.94px;width:162.14px;height:53.00px;background:#ff4500"></div>
<div class="t" style="left:334.00px;top:471.59px;width:30px;font-size:8.8px;line-height:12px;color:#777;text-align:right;">10</div>
<div class="t" style="left:534.44px;top:471.59px;width:300px;font-size:8.8px;line-height:12px;color:#777;text-align:left;">268</div>
<div class="r" style="left:368.30px;top:519.82px;width:166.37px;height:53.00px;background:#ff4500"></div>
<div class="t" style="left:334.00px;top:540.47px;width:30px;font-size:8.8px;line-height:12px;color:#777;text-align:right;">11</div>
<div class="t" style="left:538.67px;top:540.47px;width:300px;font-size:8.8px;line-height:12px;color:#777;text-align:left;">275</div>
<div class="r" style="left:592.30px;top:194.60px;width:209.90px;height:409.90px;border:1px solid #90d8cf;border-radius:3px;background:rgba(255,255,255,.65)"></div>
<div class="t" style="left:596.70px;top:197.63px;width:300px;font-size:9.3px;line-height:13px;color:#5a5a5a;text-align:left;-webkit-text-stroke:0.3px #5a5a5a;">Students by Characteristic</div>
<div class="r" style="left:796.00px;top:217.00px;width:3.00px;height:293.00px;background:#b8b8b8;border-radius:1.5px"></div>
<div class="r" style="left:796.00px;top:510.00px;width:3.00px;height:90.00px;background:#f0f0f0;border-radius:1.5px"></div>
<div class="r" style="left:669.30px;top:230.10px;width:42.08px;height:12.20px;background:#4a98d4"></div>
<div class="t" style="left:572.80px;top:230.35px;width:80px;font-size:8.8px;line-height:12px;color:#777;text-align:right;">Female</div>
<svg class="ic" style="left:657.00px;top:233.70px" width="6" height="7.20" viewBox="0 0 10 12"><circle cx="5" cy="4" r="3" stroke="#666" stroke-width="1.5" fill="none"/><path d="M5,7 L5,11.5 M3,9.5 L7,9.5" stroke="#666" stroke-width="1.5"/></svg>
<div class="t" style="left:716.38px;top:230.35px;width:300px;font-size:8.8px;line-height:12px;color:#777;text-align:left;">571</div>
<div class="r" style="left:669.30px;top:245.87px;width:58.82px;height:12.20px;background:#4a98d4"></div>
<div class="t" style="left:572.80px;top:246.12px;width:80px;font-size:8.8px;line-height:12px;color:#777;text-align:right;">Male</div>
<svg class="ic" style="left:656.80px;top:249.97px" width="6.3" height="6.3" viewBox="0 0 10 10"><circle cx="4" cy="6" r="3" stroke="#666" stroke-width="1.5" fill="none"/><path d="M6.2,3.8 L9.2,0.8 M6,0.8 L9.2,0.8 L9.2,4" stroke="#666" stroke-width="1.5" fill="none"/></svg>
<div class="t" style="left:733.12px;top:246.12px;width:300px;font-size:8.8px;line-height:12px;color:#777;text-align:left;">798</div>
<div class="r" style="left:669.30px;top:261.64px;width:100.90px;height:12.20px;background:#4a98d4"></div>
<div class="t" style="left:572.80px;top:261.89px;width:80px;font-size:8.8px;line-height:12px;color:#777;text-align:right;">Boarder</div>
<svg class="ic" style="left:655.80px;top:263.54px" width="8.3" height="8.3" viewBox="0 0 10 10"><path d="M1.2,1.2 L8.8,8.8 M8.8,1.2 L1.2,8.8" stroke="#e8161c" stroke-width="2.53" stroke-linecap="round"/></svg>
<div class="t" style="left:726.20px;top:261.89px;width:40px;font-size:8.8px;line-height:12px;color:#fff;text-align:right;">1,369</div>
<div class="r" style="left:669.30px;top:277.41px;width:100.90px;height:12.20px;background:#4a98d4"></div>
<div class="t" style="left:572.80px;top:277.66px;width:80px;font-size:8.8px;line-height:12px;color:#777;text-align:right;">Carer</div>
<svg class="ic" style="left:655.80px;top:279.31px" width="8.3" height="8.3" viewBox="0 0 10 10"><path d="M1.2,1.2 L8.8,8.8 M8.8,1.2 L1.2,8.8" stroke="#e8161c" stroke-width="2.53" stroke-linecap="round"/></svg>
<div class="t" style="left:726.20px;top:277.66px;width:40px;font-size:8.8px;line-height:12px;color:#fff;text-align:right;">1,369</div>
<div class="r" style="left:669.30px;top:293.18px;width:37.88px;height:12.20px;background:#4a98d4"></div>
<div class="t" style="left:572.80px;top:293.43px;width:80px;font-size:8.8px;line-height:12px;color:#777;text-align:right;">CLA</div>
<svg class="ic" style="left:655.80px;top:295.08px" width="8.3" height="8.3" viewBox="0 0 10 10"><path d="M1.2,1.2 L8.8,8.8 M8.8,1.2 L1.2,8.8" stroke="#e8161c" stroke-width="2.53" stroke-linecap="round"/></svg>
<div class="t" style="left:712.18px;top:293.43px;width:300px;font-size:8.8px;line-height:12px;color:#777;text-align:left;">514</div>
<div class="r" style="left:669.30px;top:308.95px;width:63.02px;height:12.20px;background:#4a98d4"></div>
<div class="t" style="left:572.80px;top:309.20px;width:80px;font-size:8.8px;line-height:12px;color:#777;text-align:right;">CLA</div>
<svg class="ic" style="left:655.90px;top:310.65px" width="8.8" height="8.8" viewBox="0 0 10 10"><rect x="0" y="0" width="10" height="10" rx="1.8" fill="#16c016"/><path d="M2.3,5.2 L4.3,7.4 L7.8,2.4" stroke="#fff" stroke-width="1.4" fill="none" stroke-linecap="round" stroke-linejoin="round"/></svg>
<div class="t" style="left:737.32px;top:309.20px;width:300px;font-size:8.8px;line-height:12px;color:#777;text-align:left;">855</div>
<div class="r" style="left:669.30px;top:324.72px;width:100.90px;height:12.20px;background:#4a98d4"></div>
<div class="t" style="left:572.80px;top:324.97px;width:80px;font-size:8.8px;line-height:12px;color:#777;text-align:right;">Disabled</div>
<svg class="ic" style="left:655.80px;top:326.62px" width="8.3" height="8.3" viewBox="0 0 10 10"><path d="M1.2,1.2 L8.8,8.8 M8.8,1.2 L1.2,8.8" stroke="#e8161c" stroke-width="2.53" stroke-linecap="round"/></svg>
<div class="t" style="left:726.20px;top:324.97px;width:40px;font-size:8.8px;line-height:12px;color:#fff;text-align:right;">1,369</div>
<div class="r" style="left:669.30px;top:340.49px;width:37.88px;height:12.20px;background:#4a98d4"></div>
<div class="t" style="left:572.80px;top:340.74px;width:80px;font-size:8.8px;line-height:12px;color:#777;text-align:right;">Disadv.</div>
<svg class="ic" style="left:655.80px;top:342.39px" width="8.3" height="8.3" viewBox="0 0 10 10"><path d="M1.2,1.2 L8.8,8.8 M8.8,1.2 L1.2,8.8" stroke="#e8161c" stroke-width="2.53" stroke-linecap="round"/></svg>
<div class="t" style="left:712.18px;top:340.74px;width:300px;font-size:8.8px;line-height:12px;color:#777;text-align:left;">514</div>
<div class="r" style="left:669.30px;top:356.26px;width:63.02px;height:12.20px;background:#4a98d4"></div>
<div class="t" style="left:572.80px;top:356.51px;width:80px;font-size:8.8px;line-height:12px;color:#777;text-align:right;">Disadv.</div>
<svg class="ic" style="left:655.90px;top:357.96px" width="8.8" height="8.8" viewBox="0 0 10 10"><rect x="0" y="0" width="10" height="10" rx="1.8" fill="#16c016"/><path d="M2.3,5.2 L4.3,7.4 L7.8,2.4" stroke="#fff" stroke-width="1.4" fill="none" stroke-linecap="round" stroke-linejoin="round"/></svg>
<div class="t" style="left:737.32px;top:356.51px;width:300px;font-size:8.8px;line-height:12px;color:#777;text-align:left;">855</div>
<div class="r" style="left:669.30px;top:372.03px;width:23.95px;height:12.20px;background:#4a98d4"></div>
<div class="t" style="left:572.80px;top:372.28px;width:80px;font-size:8.8px;line-height:12px;color:#777;text-align:right;">EAL</div>
<svg class="ic" style="left:655.80px;top:373.93px" width="8.3" height="8.3" viewBox="0 0 10 10"><path d="M1.2,1.2 L8.8,8.8 M8.8,1.2 L1.2,8.8" stroke="#e8161c" stroke-width="2.53" stroke-linecap="round"/></svg>
<div class="t" style="left:698.25px;top:372.28px;width:300px;font-size:8.8px;line-height:12px;color:#777;text-align:left;">325</div>
<div class="r" style="left:669.30px;top:387.80px;width:76.95px;height:12.20px;background:#4a98d4"></div>
<div class="t" style="left:572.80px;top:388.05px;width:80px;font-size:8.8px;line-height:12px;color:#777;text-align:right;">EAL</div>
<svg class="ic" style="left:655.90px;top:389.50px" width="8.8" height="8.8" viewBox="0 0 10 10"><rect x="0" y="0" width="10" height="10" rx="1.8" fill="#16c016"/><path d="M2.3,5.2 L4.3,7.4 L7.8,2.4" stroke="#fff" stroke-width="1.4" fill="none" stroke-linecap="round" stroke-linejoin="round"/></svg>
<div class="t" style="left:751.25px;top:388.05px;width:300px;font-size:8.8px;line-height:12px;color:#777;text-align:left;">1,044</div>
<div class="r" style="left:669.30px;top:403.57px;width:37.88px;height:12.20px;background:#4a98d4"></div>
<div class="t" style="left:572.80px;top:403.82px;width:80px;font-size:8.8px;line-height:12px;color:#777;text-align:right;">EIC</div>
<svg class="ic" style="left:655.80px;top:405.47px" width="8.3" height="8.3" viewBox="0 0 10 10"><path d="M1.2,1.2 L8.8,8.8 M8.8,1.2 L1.2,8.8" stroke="#e8161c" stroke-width="2.53" stroke-linecap="round"/></svg>
<div class="t" style="left:712.18px;top:403.82px;width:300px;font-size:8.8px;line-height:12px;color:#777;text-align:left;">514</div>
<div class="r" style="left:669.30px;top:419.34px;width:63.02px;height:12.20px;background:#4a98d4"></div>
<div class="t" style="left:572.80px;top:419.59px;width:80px;font-size:8.8px;line-height:12px;color:#777;text-align:right;">EIC</div>
<svg class="ic" style="left:655.90px;top:421.04px" width="8.8" height="8.8" viewBox="0 0 10 10"><rect x="0" y="0" width="10" height="10" rx="1.8" fill="#16c016"/><path d="M2.3,5.2 L4.3,7.4 L7.8,2.4" stroke="#fff" stroke-width="1.4" fill="none" stroke-linecap="round" stroke-linejoin="round"/></svg>
<div class="t" style="left:737.32px;top:419.59px;width:300px;font-size:8.8px;line-height:12px;color:#777;text-align:left;">855</div>
<div class="r" style="left:669.30px;top:435.11px;width:37.88px;height:12.20px;background:#4a98d4"></div>
<div class="t" style="left:572.80px;top:435.36px;width:80px;font-size:8.8px;line-height:12px;color:#777;text-align:right;">FSM</div>
<svg class="ic" style="left:655.80px;top:437.01px" width="8.3" height="8.3" viewBox="0 0 10 10"><path d="M1.2,1.2 L8.8,8.8 M8.8,1.2 L1.2,8.8" stroke="#e8161c" stroke-width="2.53" stroke-linecap="round"/></svg>
<div class="t" style="left:712.18px;top:435.36px;width:300px;font-size:8.8px;line-height:12px;color:#777;text-align:left;">514</div>
<div class="r" style="left:669.30px;top:450.88px;width:63.02px;height:12.20px;background:#4a98d4"></div>
<div class="t" style="left:572.80px;top:451.13px;width:80px;font-size:8.8px;line-height:12px;color:#777;text-align:right;">FSM</div>
<svg class="ic" style="left:655.90px;top:452.58px" width="8.8" height="8.8" viewBox="0 0 10 10"><rect x="0" y="0" width="10" height="10" rx="1.8" fill="#16c016"/><path d="M2.3,5.2 L4.3,7.4 L7.8,2.4" stroke="#fff" stroke-width="1.4" fill="none" stroke-linecap="round" stroke-linejoin="round"/></svg>
<div class="t" style="left:737.32px;top:451.13px;width:300px;font-size:8.8px;line-height:12px;color:#777;text-align:left;">855</div>
<div class="r" style="left:669.30px;top:466.65px;width:37.88px;height:12.20px;background:#4a98d4"></div>
<div class="t" style="left:572.80px;top:466.90px;width:80px;font-size:8.8px;line-height:12px;color:#777;text-align:right;">FSM6</div>
<svg class="ic" style="left:655.80px;top:468.55px" width="8.3" height="8.3" viewBox="0 0 10 10"><path d="M1.2,1.2 L8.8,8.8 M8.8,1.2 L1.2,8.8" stroke="#e8161c" stroke-width="2.53" stroke-linecap="round"/></svg>
<div class="t" style="left:712.18px;top:466.90px;width:300px;font-size:8.8px;line-height:12px;color:#777;text-align:left;">514</div>
<div class="r" style="left:669.30px;top:482.42px;width:63.02px;height:12.20px;background:#4a98d4"></div>
<div class="t" style="left:572.80px;top:482.67px;width:80px;font-size:8.8px;line-height:12px;color:#777;text-align:right;">FSM6</div>
<svg class="ic" style="left:655.90px;top:484.12px" width="8.8" height="8.8" viewBox="0 0 10 10"><rect x="0" y="0" width="10" height="10" rx="1.8" fill="#16c016"/><path d="M2.3,5.2 L4.3,7.4 L7.8,2.4" stroke="#fff" stroke-width="1.4" fill="none" stroke-linecap="round" stroke-linejoin="round"/></svg>
<div class="t" style="left:737.32px;top:482.67px;width:300px;font-size:8.8px;line-height:12px;color:#777;text-align:left;">855</div>
<div class="r" style="left:669.30px;top:498.19px;width:100.90px;height:12.20px;background:#4a98d4"></div>
<div class="t" style="left:572.80px;top:498.44px;width:80px;font-size:8.8px;line-height:12px;color:#777;text-align:right;">Gifted</div>
<svg class="ic" style="left:655.80px;top:500.09px" width="8.3" height="8.3" viewBox="0 0 10 10"><path d="M1.2,1.2 L8.8,8.8 M8.8,1.2 L1.2,8.8" stroke="#e8161c" stroke-width="2.53" stroke-linecap="round"/></svg>
<div class="t" style="left:726.20px;top:498.44px;width:40px;font-size:8.8px;line-height:12px;color:#fff;text-align:right;">1,369</div>
<div class="r" style="left:669.30px;top:513.96px;width:100.90px;height:12.20px;background:#4a98d4"></div>
<div class="t" style="left:572.80px;top:514.21px;width:80px;font-size:8.8px;line-height:12px;color:#777;text-align:right;">Part Time</div>
<svg class="ic" style="left:655.80px;top:515.86px" width="8.3" height="8.3" viewBox="0 0 10 10"><path d="M1.2,1.2 L8.8,8.8 M8.8,1.2 L1.2,8.8" stroke="#e8161c" stroke-width="2.53" stroke-linecap="round"/></svg>
<div class="t" style="left:726.20px;top:514.21px;width:40px;font-size:8.8px;line-height:12px;color:#fff;text-align:right;">1,369</div>
<div class="r" style="left:669.30px;top:529.73px;width:37.88px;height:12.20px;background:#4a98d4"></div>
<div class="t" style="left:572.80px;top:529.98px;width:80px;font-size:8.8px;line-height:12px;color:#777;text-align:right;">PP</div>
<svg class="ic" style="left:655.80px;top:531.63px" width="8.3" height="8.3" viewBox="0 0 10 10"><path d="M1.2,1.2 L8.8,8.8 M8.8,1.2 L1.2,8.8" stroke="#e8161c" stroke-width="2.53" stroke-linecap="round"/></svg>
<div class="t" style="left:712.18px;top:529.98px;width:300px;font-size:8.8px;line-height:12px;color:#777;text-align:left;">514</div>
<div class="r" style="left:669.30px;top:545.50px;width:63.02px;height:12.20px;background:#4a98d4"></div>
<div class="t" style="left:572.80px;top:545.75px;width:80px;font-size:8.8px;line-height:12px;color:#777;text-align:right;">PP</div>
<svg class="ic" style="left:655.90px;top:547.20px" width="8.8" height="8.8" viewBox="0 0 10 10"><rect x="0" y="0" width="10" height="10" rx="1.8" fill="#16c016"/><path d="M2.3,5.2 L4.3,7.4 L7.8,2.4" stroke="#fff" stroke-width="1.4" fill="none" stroke-linecap="round" stroke-linejoin="round"/></svg>
<div class="t" style="left:737.32px;top:545.75px;width:300px;font-size:8.8px;line-height:12px;color:#777;text-align:left;">855</div>
<div class="r" style="left:669.30px;top:561.27px;width:4.13px;height:12.20px;background:#4a98d4"></div>
<div class="t" style="left:572.80px;top:561.52px;width:80px;font-size:8.8px;line-height:12px;color:#777;text-align:right;">SEND E</div>
<svg class="ic" style="left:655.50px;top:563.37px" width="8.5" height="8.5" viewBox="0 0 10 10"><path d="M1,5.5 L3.8,8.6 L9.2,1.2" stroke="#444" stroke-width="1.6" fill="none" stroke-linecap="round" stroke-linejoin="round"/></svg>
<div class="t" style="left:678.43px;top:561.52px;width:300px;font-size:8.8px;line-height:12px;color:#777;text-align:left;">56</div>
<div class="r" style="left:669.30px;top:577.04px;width:14.89px;height:12.20px;background:#4a98d4"></div>
<div class="t" style="left:572.80px;top:577.29px;width:80px;font-size:8.8px;line-height:12px;color:#777;text-align:right;">SEND K</div>
<svg class="ic" style="left:655.50px;top:579.14px" width="8.5" height="8.5" viewBox="0 0 10 10"><path d="M1,5.5 L3.8,8.6 L9.2,1.2" stroke="#444" stroke-width="1.6" fill="none" stroke-linecap="round" stroke-linejoin="round"/></svg>
<div class="t" style="left:689.19px;top:577.29px;width:300px;font-size:8.8px;line-height:12px;color:#777;text-align:left;">202</div>
<div class="r" style="left:835.7px;top:196px;width:200px;height:410px;border:1px solid #90d8cf;border-radius:3px;background:#fff"></div>
<div class="t" style="left:840.20px;top:198.13px;width:300px;font-size:9.3px;line-height:13px;color:#444;text-align:left;">Student List</div>
<div class="t" style="left:846.00px;top:215.25px;width:300px;font-size:8.8px;line-height:12px;color:#555;text-align:left;">Student</div>
<div class="t" style="left:967.00px;top:215.25px;width:300px;font-size:8.8px;line-height:12px;color:#555;text-align:left;">Gen</div>
<div class="t" style="left:968.50px;top:227.15px;width:300px;font-size:8.8px;line-height:12px;color:#555;text-align:left;">der</div>
<svg class="ic" style="left:845.5px;top:250px" width="6" height="4" viewBox="0 0 6 4"><path d="M0,4 L3,0.5 L6,4 Z" fill="#444"/></svg>
<div class="r" style="left:840.70px;top:256.30px;width:149.30px;height:1.90px;background:#5a6272"></div>
<div class="r" style="left:836.7px;top:258.2px;width:160px;height:346.8px;overflow:hidden">
<div class="t" style="left:9.3px;top:2.00px;font-size:8.6px;line-height:12px;color:#333;-webkit-text-stroke:0.15px #333">Abbot Ben Y11</div>
<svg class="ic" style="left:133.30px;top:8.50px" width="7" height="7" viewBox="0 0 10 10"><circle cx="4" cy="6" r="3" stroke="#4a4a4a" stroke-width="1.9" fill="none"/><path d="M6.2,3.8 L9.2,0.8 M6,0.8 L9.2,0.8 L9.2,4" stroke="#4a4a4a" stroke-width="1.9" fill="none"/></svg>
<div class="r" style="left:4px;top:15.90px;width:160px;height:16px;background:#f4f4f4"></div>
<div class="t" style="left:9.3px;top:18.70px;font-size:8.6px;line-height:12px;color:#333;-webkit-text-stroke:0.15px #333">Abbot Layla Y9</div>
<svg class="ic" style="left:134.00px;top:24.40px" width="6.3" height="7.56" viewBox="0 0 10 12"><circle cx="5" cy="4" r="3" stroke="#4a4a4a" stroke-width="1.9" fill="none"/><path d="M5,7 L5,11.5 M3,9.5 L7,9.5" stroke="#4a4a4a" stroke-width="1.9"/></svg>
<div class="t" style="left:9.3px;top:35.40px;font-size:8.6px;line-height:12px;color:#333;-webkit-text-stroke:0.15px #333">Abdelkoder Garvett Y9</div>
<svg class="ic" style="left:134.00px;top:41.10px" width="6.3" height="7.56" viewBox="0 0 10 12"><circle cx="5" cy="4" r="3" stroke="#4a4a4a" stroke-width="1.9" fill="none"/><path d="M5,7 L5,11.5 M3,9.5 L7,9.5" stroke="#4a4a4a" stroke-width="1.9"/></svg>
<div class="r" style="left:4px;top:49.30px;width:160px;height:16px;background:#f4f4f4"></div>
<div class="t" style="left:9.3px;top:52.10px;font-size:8.6px;line-height:12px;color:#333;-webkit-text-stroke:0.15px #333">Abdullah Alice Y10</div>
<svg class="ic" style="left:133.30px;top:58.60px" width="7" height="7" viewBox="0 0 10 10"><circle cx="4" cy="6" r="3" stroke="#4a4a4a" stroke-width="1.9" fill="none"/><path d="M6.2,3.8 L9.2,0.8 M6,0.8 L9.2,0.8 L9.2,4" stroke="#4a4a4a" stroke-width="1.9" fill="none"/></svg>
<div class="t" style="left:9.3px;top:68.80px;font-size:8.6px;line-height:12px;color:#333;-webkit-text-stroke:0.15px #333">Abdullah Alice Y7</div>
<svg class="ic" style="left:134.00px;top:74.50px" width="6.3" height="7.56" viewBox="0 0 10 12"><circle cx="5" cy="4" r="3" stroke="#4a4a4a" stroke-width="1.9" fill="none"/><path d="M5,7 L5,11.5 M3,9.5 L7,9.5" stroke="#4a4a4a" stroke-width="1.9"/></svg>
<div class="r" style="left:4px;top:82.70px;width:160px;height:16px;background:#f4f4f4"></div>
<div class="t" style="left:9.3px;top:85.50px;font-size:8.6px;line-height:12px;color:#333;-webkit-text-stroke:0.15px #333">Abhra Abjit Y11</div>
<svg class="ic" style="left:134.00px;top:91.20px" width="6.3" height="7.56" viewBox="0 0 10 12"><circle cx="5" cy="4" r="3" stroke="#4a4a4a" stroke-width="1.9" fill="none"/><path d="M5,7 L5,11.5 M3,9.5 L7,9.5" stroke="#4a4a4a" stroke-width="1.9"/></svg>
<div class="t" style="left:9.3px;top:102.20px;font-size:8.6px;line-height:12px;color:#333;-webkit-text-stroke:0.15px #333">Abhra Alisha Y11</div>
<svg class="ic" style="left:133.30px;top:108.70px" width="7" height="7" viewBox="0 0 10 10"><circle cx="4" cy="6" r="3" stroke="#4a4a4a" stroke-width="1.9" fill="none"/><path d="M6.2,3.8 L9.2,0.8 M6,0.8 L9.2,0.8 L9.2,4" stroke="#4a4a4a" stroke-width="1.9" fill="none"/></svg>
<div class="r" style="left:4px;top:116.10px;width:160px;height:16px;background:#f4f4f4"></div>
<div class="t" style="left:9.3px;top:118.90px;font-size:8.6px;line-height:12px;color:#333;-webkit-text-stroke:0.15px #333">Abhra Crystal Y10</div>
<svg class="ic" style="left:133.30px;top:125.40px" width="7" height="7" viewBox="0 0 10 10"><circle cx="4" cy="6" r="3" stroke="#4a4a4a" stroke-width="1.9" fill="none"/><path d="M6.2,3.8 L9.2,0.8 M6,0.8 L9.2,0.8 L9.2,4" stroke="#4a4a4a" stroke-width="1.9" fill="none"/></svg>
<div class="t" style="left:9.3px;top:135.60px;font-size:8.6px;line-height:12px;color:#333;-webkit-text-stroke:0.15px #333">Abimbola Gan Y10</div>
<svg class="ic" style="left:134.00px;top:141.30px" width="6.3" height="7.56" viewBox="0 0 10 12"><circle cx="5" cy="4" r="3" stroke="#4a4a4a" stroke-width="1.9" fill="none"/><path d="M5,7 L5,11.5 M3,9.5 L7,9.5" stroke="#4a4a4a" stroke-width="1.9"/></svg>
<div class="r" style="left:4px;top:149.50px;width:160px;height:16px;background:#f4f4f4"></div>
<div class="t" style="left:9.3px;top:152.30px;font-size:8.6px;line-height:12px;color:#333;-webkit-text-stroke:0.15px #333">Ackton Alisha Y10</div>
<svg class="ic" style="left:133.30px;top:158.80px" width="7" height="7" viewBox="0 0 10 10"><circle cx="4" cy="6" r="3" stroke="#4a4a4a" stroke-width="1.9" fill="none"/><path d="M6.2,3.8 L9.2,0.8 M6,0.8 L9.2,0.8 L9.2,4" stroke="#4a4a4a" stroke-width="1.9" fill="none"/></svg>
<div class="t" style="left:9.3px;top:169.00px;font-size:8.6px;line-height:12px;color:#333;-webkit-text-stroke:0.15px #333">Ackton Alisha Y10</div>
<svg class="ic" style="left:133.30px;top:175.50px" width="7" height="7" viewBox="0 0 10 10"><circle cx="4" cy="6" r="3" stroke="#4a4a4a" stroke-width="1.9" fill="none"/><path d="M6.2,3.8 L9.2,0.8 M6,0.8 L9.2,0.8 L9.2,4" stroke="#4a4a4a" stroke-width="1.9" fill="none"/></svg>
<div class="r" style="left:4px;top:182.90px;width:160px;height:16px;background:#f4f4f4"></div>
<div class="t" style="left:9.3px;top:185.70px;font-size:8.6px;line-height:12px;color:#333;-webkit-text-stroke:0.15px #333">Ackton Noah Y8</div>
<svg class="ic" style="left:133.30px;top:192.20px" width="7" height="7" viewBox="0 0 10 10"><circle cx="4" cy="6" r="3" stroke="#4a4a4a" stroke-width="1.9" fill="none"/><path d="M6.2,3.8 L9.2,0.8 M6,0.8 L9.2,0.8 L9.2,4" stroke="#4a4a4a" stroke-width="1.9" fill="none"/></svg>
<div class="t" style="left:9.3px;top:202.40px;font-size:8.6px;line-height:12px;color:#333;-webkit-text-stroke:0.15px #333">Adam Ben Y9</div>
<svg class="ic" style="left:133.30px;top:208.90px" width="7" height="7" viewBox="0 0 10 10"><circle cx="4" cy="6" r="3" stroke="#4a4a4a" stroke-width="1.9" fill="none"/><path d="M6.2,3.8 L9.2,0.8 M6,0.8 L9.2,0.8 L9.2,4" stroke="#4a4a4a" stroke-width="1.9" fill="none"/></svg>
<div class="r" style="left:4px;top:216.30px;width:160px;height:16px;background:#f4f4f4"></div>
<div class="t" style="left:9.3px;top:219.10px;font-size:8.6px;line-height:12px;color:#333;-webkit-text-stroke:0.15px #333">Adam Briony Y11</div>
<svg class="ic" style="left:134.00px;top:224.80px" width="6.3" height="7.56" viewBox="0 0 10 12"><circle cx="5" cy="4" r="3" stroke="#4a4a4a" stroke-width="1.9" fill="none"/><path d="M5,7 L5,11.5 M3,9.5 L7,9.5" stroke="#4a4a4a" stroke-width="1.9"/></svg>
<div class="t" style="left:9.3px;top:235.80px;font-size:8.6px;line-height:12px;color:#333;-webkit-text-stroke:0.15px #333">Adams Elijah Y10</div>
<svg class="ic" style="left:133.30px;top:242.30px" width="7" height="7" viewBox="0 0 10 10"><circle cx="4" cy="6" r="3" stroke="#4a4a4a" stroke-width="1.9" fill="none"/><path d="M6.2,3.8 L9.2,0.8 M6,0.8 L9.2,0.8 L9.2,4" stroke="#4a4a4a" stroke-width="1.9" fill="none"/></svg>
<div class="r" style="left:4px;top:249.70px;width:160px;height:16px;background:#f4f4f4"></div>
<div class="t" style="left:9.3px;top:252.50px;font-size:8.6px;line-height:12px;color:#333;-webkit-text-stroke:0.15px #333">Adams Freddie Y7</div>
<svg class="ic" style="left:133.30px;top:259.00px" width="7" height="7" viewBox="0 0 10 10"><circle cx="4" cy="6" r="3" stroke="#4a4a4a" stroke-width="1.9" fill="none"/><path d="M6.2,3.8 L9.2,0.8 M6,0.8 L9.2,0.8 L9.2,4" stroke="#4a4a4a" stroke-width="1.9" fill="none"/></svg>
<div class="t" style="left:9.3px;top:269.20px;font-size:8.6px;line-height:12px;color:#333;-webkit-text-stroke:0.15px #333">Adams Mohamed Y9</div>
<svg class="ic" style="left:134.00px;top:274.90px" width="6.3" height="7.56" viewBox="0 0 10 12"><circle cx="5" cy="4" r="3" stroke="#4a4a4a" stroke-width="1.9" fill="none"/><path d="M5,7 L5,11.5 M3,9.5 L7,9.5" stroke="#4a4a4a" stroke-width="1.9"/></svg>
<div class="r" style="left:4px;top:283.10px;width:160px;height:16px;background:#f4f4f4"></div>
<div class="t" style="left:9.3px;top:285.90px;font-size:8.6px;line-height:12px;color:#333;-webkit-text-stroke:0.15px #333">Adasheji Stephen Y8</div>
<svg class="ic" style="left:133.30px;top:292.40px" width="7" height="7" viewBox="0 0 10 10"><circle cx="4" cy="6" r="3" stroke="#4a4a4a" stroke-width="1.9" fill="none"/><path d="M6.2,3.8 L9.2,0.8 M6,0.8 L9.2,0.8 L9.2,4" stroke="#4a4a4a" stroke-width="1.9" fill="none"/></svg>
<div class="t" style="left:9.3px;top:302.60px;font-size:8.6px;line-height:12px;color:#333;-webkit-text-stroke:0.15px #333">Addington Mandie Y10</div>
<svg class="ic" style="left:133.30px;top:309.10px" width="7" height="7" viewBox="0 0 10 10"><circle cx="4" cy="6" r="3" stroke="#4a4a4a" stroke-width="1.9" fill="none"/><path d="M6.2,3.8 L9.2,0.8 M6,0.8 L9.2,0.8 L9.2,4" stroke="#4a4a4a" stroke-width="1.9" fill="none"/></svg>
<div class="r" style="left:4px;top:316.50px;width:160px;height:16px;background:#f4f4f4"></div>
<div class="t" style="left:9.3px;top:319.30px;font-size:8.6px;line-height:12px;color:#333;-webkit-text-stroke:0.15px #333">Addington Mandie Y7</div>
<svg class="ic" style="left:133.30px;top:325.80px" width="7" height="7" viewBox="0 0 10 10"><circle cx="4" cy="6" r="3" stroke="#4a4a4a" stroke-width="1.9" fill="none"/><path d="M6.2,3.8 L9.2,0.8 M6,0.8 L9.2,0.8 L9.2,4" stroke="#4a4a4a" stroke-width="1.9" fill="none"/></svg>
<div class="t" style="left:9.3px;top:336.00px;font-size:8.6px;line-height:12px;color:#333;-webkit-text-stroke:0.15px #333">Addington Travis Y11</div>
<svg class="ic" style="left:134.00px;top:341.70px" width="6.3" height="7.56" viewBox="0 0 10 12"><circle cx="5" cy="4" r="3" stroke="#4a4a4a" stroke-width="1.9" fill="none"/><path d="M5,7 L5,11.5 M3,9.5 L7,9.5" stroke="#4a4a4a" stroke-width="1.9"/></svg>
</div>
<div class="r" style="left:48.00px;top:631.40px;width:928.00px;height:1.80px;background:#e3f5f2"></div>
</div></div>
</body></html>
